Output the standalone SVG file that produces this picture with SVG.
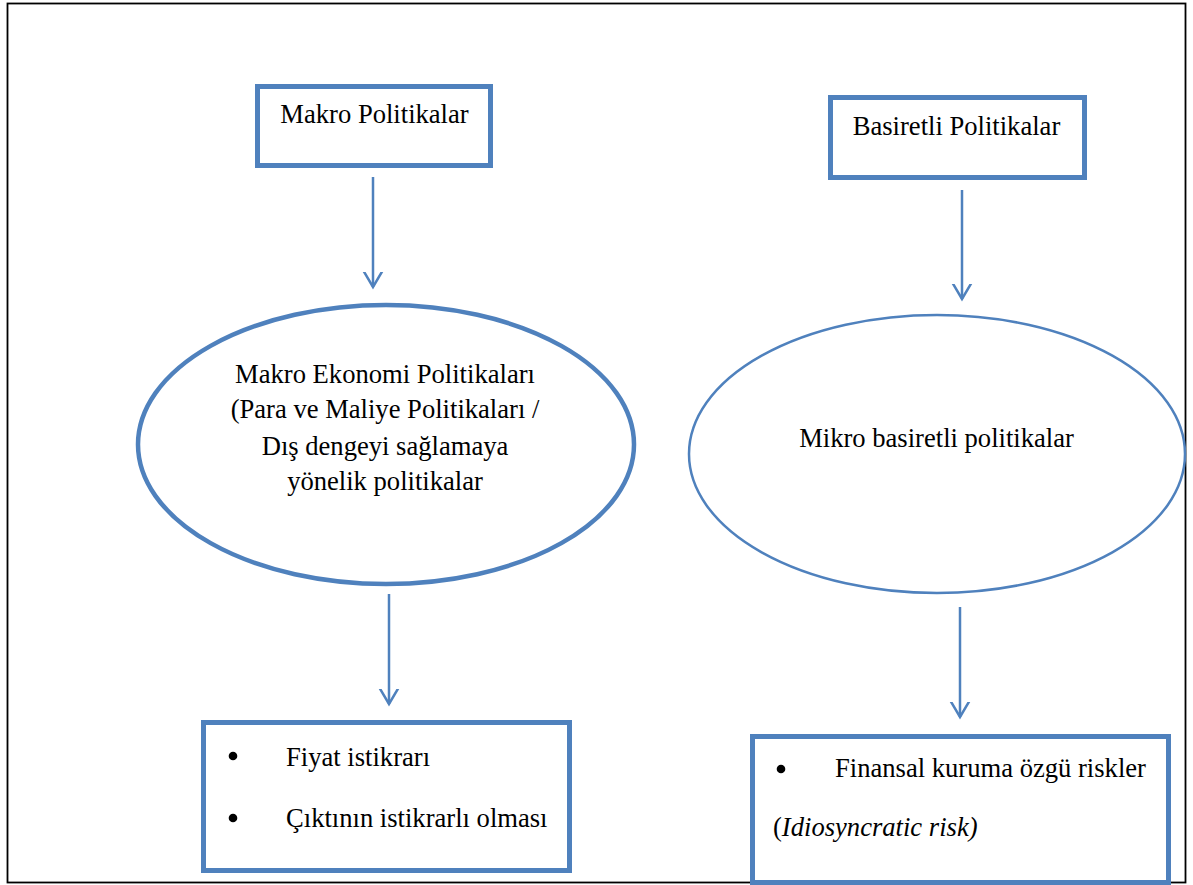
<svg xmlns="http://www.w3.org/2000/svg" width="1193" height="885" viewBox="0 0 1193 885">
<defs>
<style>
.box{fill:#fff;stroke:#4F81BD;stroke-width:5}
.ell{fill:#fff;stroke:#4F81BD}
.t{font-family:"Liberation Serif","Times New Roman",serif;font-size:26.6px;fill:#000}
.c{text-anchor:middle}
.conn{stroke:#4F81BD;stroke-width:2.5;fill:none}
</style>
<marker id="ah" markerUnits="userSpaceOnUse" markerWidth="30" markerHeight="30" viewBox="-15 -15 30 30" refX="0" refY="0" orient="auto">
<path d="M-17,-10 L0,0 L-17,10" fill="none" stroke="#4F81BD" stroke-width="2.5"/>
</marker>
</defs>
<rect x="0" y="0" width="1193" height="885" fill="#fff"/>
<rect id="frame" x="7.5" y="3.5" width="1178" height="879" fill="none" stroke="#000" stroke-width="1.8"/>
<g id="connectors">
<line class="conn" x1="373" y1="177" x2="373" y2="287" marker-end="url(#ah)"/>
<line class="conn" x1="962" y1="190" x2="962" y2="299" marker-end="url(#ah)"/>
<line class="conn" x1="389" y1="594" x2="389" y2="704" marker-end="url(#ah)"/>
<line class="conn" x1="960" y1="607" x2="960" y2="717" marker-end="url(#ah)"/>
</g>
<g id="makro-politikalar">
<rect class="box" x="257.5" y="86.5" width="233" height="79"/>
<text class="t c" x="374.5" y="123">Makro Politikalar</text>
</g>
<g id="basiretli-politikalar">
<rect class="box" x="830.5" y="97.5" width="254" height="80"/>
<text class="t c" x="956.5" y="135">Basiretli Politikalar</text>
</g>
<g id="makro-ekonomi">
<ellipse class="ell" cx="386" cy="444.5" rx="248" ry="139.5" stroke-width="4.5"/>
<text class="t c" x="385" y="383">Makro Ekonomi Politikaları</text>
<text class="t c" x="385" y="418">(Para ve Maliye Politikaları /</text>
<text class="t c" x="385" y="455">Dış dengeyi sağlamaya</text>
<text class="t c" x="385" y="490">yönelik politikalar</text>
</g>
<g id="mikro-basiretli">
<ellipse class="ell" cx="937" cy="454" rx="248" ry="139" stroke-width="2.5"/>
<text class="t c" x="936.5" y="447">Mikro basiretli politikalar</text>
</g>
<g id="makro-hedefler">
<rect class="box" x="203.5" y="722.5" width="366" height="148"/>
<circle cx="233" cy="756" r="4.3" fill="#000"/>
<text class="t" x="286" y="766">Fiyat istikrarı</text>
<circle cx="233" cy="818" r="4.3" fill="#000"/>
<text class="t" x="286" y="827">Çıktının istikrarlı olması</text>
</g>
<g id="mikro-hedefler">
<rect class="box" x="752.5" y="736.5" width="416" height="146"/>
<circle cx="781" cy="769" r="4.3" fill="#000"/>
<text class="t" x="835" y="777">Finansal kuruma özgü riskler</text>
<text class="t" x="773" y="836">(<tspan font-style="italic">Idiosyncratic risk)</tspan></text>
</g>
</svg>
